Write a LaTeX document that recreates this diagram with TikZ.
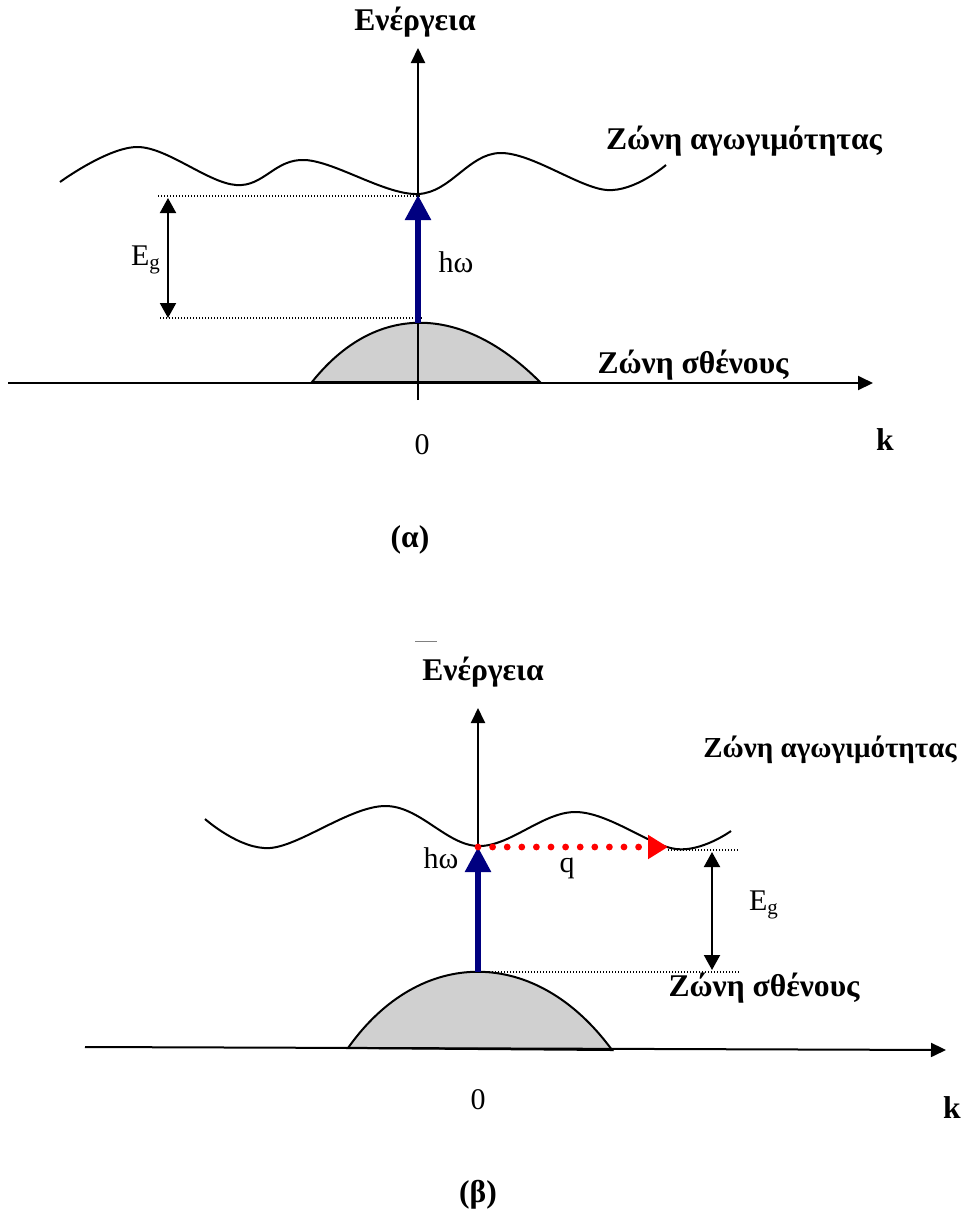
\documentclass[tikz,border=0pt]{standalone}
\usepackage{fontspec}
\setmainfont{Liberation Serif}
\usetikzlibrary{arrows.meta}

\begin{document}
\begin{tikzpicture}[x=0.5pt, y=-0.5pt, font=\fontsize{15}{17}\selectfont,
    axis/.style={line width=1pt, -{Triangle[length=7.5pt, width=7pt]}},
    gaparrow/.style={line width=1pt, {Triangle[length=7.5pt, width=8pt]}-{Triangle[length=7.5pt, width=8pt]}},
    photon/.style={line width=2.8pt, draw={rgb,255:red,0;green,0;blue,128}, -{Triangle[length=12.5pt, width=12.5pt]}},
    phonon/.style={line width=3.4pt, red, line cap=round, dash pattern=on 0pt off 7.3pt, -{Triangle[length=10pt, width=11.5pt, line cap=butt]}},
    level/.style={line width=0.6pt, dash pattern=on 0.7pt off 0.8pt},
    band/.style={line width=1pt},
    valence/.style={line width=1pt, fill={rgb,255:red,208;green,208;blue,208}},
    bold/.style={font=\fontsize{15.8}{18}\selectfont\bfseries}]
    \useasboundingbox (0,0) rectangle (964,1223);

    % ---------------- (a) direct gap ----------------
    \def\ka{418}   % k = 0
    \def\ca{195}   % bottom of conduction band
    \def\va{323}   % top of valence band

    % Valence band (under the axis)
    \draw[valence] (312,382) .. controls (375,303) and (461,303) .. (540,382) -- cycle;

    % Axes
    \draw[axis] (8,383) -- (873,383);
    \draw[axis] (\ka,400) -- (\ka,48);

    % Conduction band
    \draw[band] plot[smooth, tension=0.6] coordinates {(60,182) (138,147) (236,185) (305,160) (418,194) (500,153) (607,190) (666,165)};

    % Gap levels and E_g
    \draw[level] (158,196) -- (420,196);
    \draw[level] (160,318) -- (423,318);
    \draw[gaparrow] (168,198) -- (168,318);
    \node (ega) at (146,260) {E\textsubscript{g}};

    % Vertical transition
    \draw[photon] (\ka,\va) -- (\ka,\ca);
    \node (hwa) at (456,262) {hω};

    % Labels
    \node[bold] (ena) at (415,22) {Ενέργεια};
    \node[bold] (cba) at (744,141) {Ζώνη αγωγιμότητας};
    \node[bold] (vba) at (693,365) {Ζώνη σθένους};
    \node (za) at (422,445) {0};
    \node[bold] (kka) at (885,440) {k};
    \node[bold] (capa) at (410,540) {(α)};

    % ---------------- (b) indirect gap ----------------
    \def\kb{478}   % k = 0
    \def\cb{847}   % conduction band at k = 0
    \def\vb{972}   % top of valence band

    \draw[valence] (348,1048) .. controls (420,946) and (536,946) .. (612,1050) -- cycle;

    \draw[axis] (85,1047) -- (946,1050);
    \draw[axis] (\kb,\cb) -- (\kb,708);
    \draw[gray, line width=0.5pt] (415,641) -- (437,641);

    \draw[band] plot[smooth, tension=0.6] coordinates {(205,819) (270,848) (385,806) (478,846) (576,812) (676,849) (731,831)};

    % Gap levels and E_g
    \draw[level] (668,850) -- (738,850);
    \draw[level] (480,972) -- (740,972);
    \draw[gaparrow] (712,852) -- (712,970);
    \node (egb) at (764,905) {E\textsubscript{g}};

    % Photon and phonon
    \draw[photon] (\kb,\vb) -- (\kb,\cb);
    \node (hwb) at (441,858) {hω};
    \draw[phonon] (\kb,\cb) -- (668,\cb);
    \node (qb) at (567,868) {q};

    % Labels
    \node[bold] (enb) at (483,672) {Ενέργεια};
    \node[bold, font=\fontsize{14.5}{17}\selectfont\bfseries] (cbb) at (830,750) {Ζώνη αγωγιμότητας};
    \node[bold] (vbb) at (764,988) {Ζώνη σθένους};
    \node (zb) at (478,1100) {0};
    \node[bold] (kkb) at (952,1108) {k};
    \node[bold] (capb) at (478,1195) {(β)};
\end{tikzpicture}
\end{document}
